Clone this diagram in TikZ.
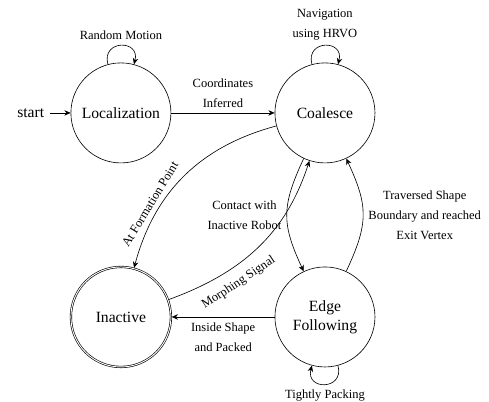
\documentclass[tikz,border=0pt]{standalone}
\usepackage{fontspec}
\setmainfont{Liberation Serif}
\usetikzlibrary{automata,positioning,arrows.meta}

\begin{document}
\begin{tikzpicture}[>={Stealth[length=4pt,width=3.5pt]}, node distance=4.59cm, on grid,
    every state/.style={minimum size=2.25cm, inner sep=0pt},
    initial text=start, initial distance=0.47cm,
    every loop/.style={min distance=0.58cm, looseness=1},
    lbl/.style={font=\footnotesize\linespread{1.35}\selectfont, align=center}]
  \useasboundingbox (-2.72,-6.50) rectangle (8.28,2.54);
  \node[state,initial] (Localization) {Localization};
  \node[state] (Coalesce) [right=of Localization] {Coalesce};
  \node[state,accepting] (Inactive) [below=of Localization] {Inactive};
  \node[state,align=center] (Edge) [below=of Coalesce] {Edge\\Following};
  \path[->]
    (Localization) edge[loop above] node[lbl,above] {Random Motion} ()
                   edge node[lbl,above] {Coordinates\\Inferred} (Coalesce)
    (Coalesce) edge[loop above] node[lbl,above] {Navigation\\using HRVO} ()
               edge[out=195,in=75] node[lbl,sloped,above,pos=0.71] {At Formation Point} (Inactive)
               edge[out=245,in=115,looseness=1.2] node[lbl,left] {Contact with\\Inactive Robot} (Edge)
    (Inactive) edge[out=20,in=252] node[lbl,sloped,below=3pt,pos=0.32] {Morphing Signal} (Coalesce)
    (Edge) edge[out=65,in=-65,looseness=1.2] node[lbl,right] {Traversed Shape\\Boundary and reached\\Exit Vertex} (Coalesce)
           edge node[lbl,below] {Inside Shape\\and Packed} (Inactive)
           edge[loop below] node[lbl,below] {Tightly Packing} ();
\end{tikzpicture}
\end{document}
